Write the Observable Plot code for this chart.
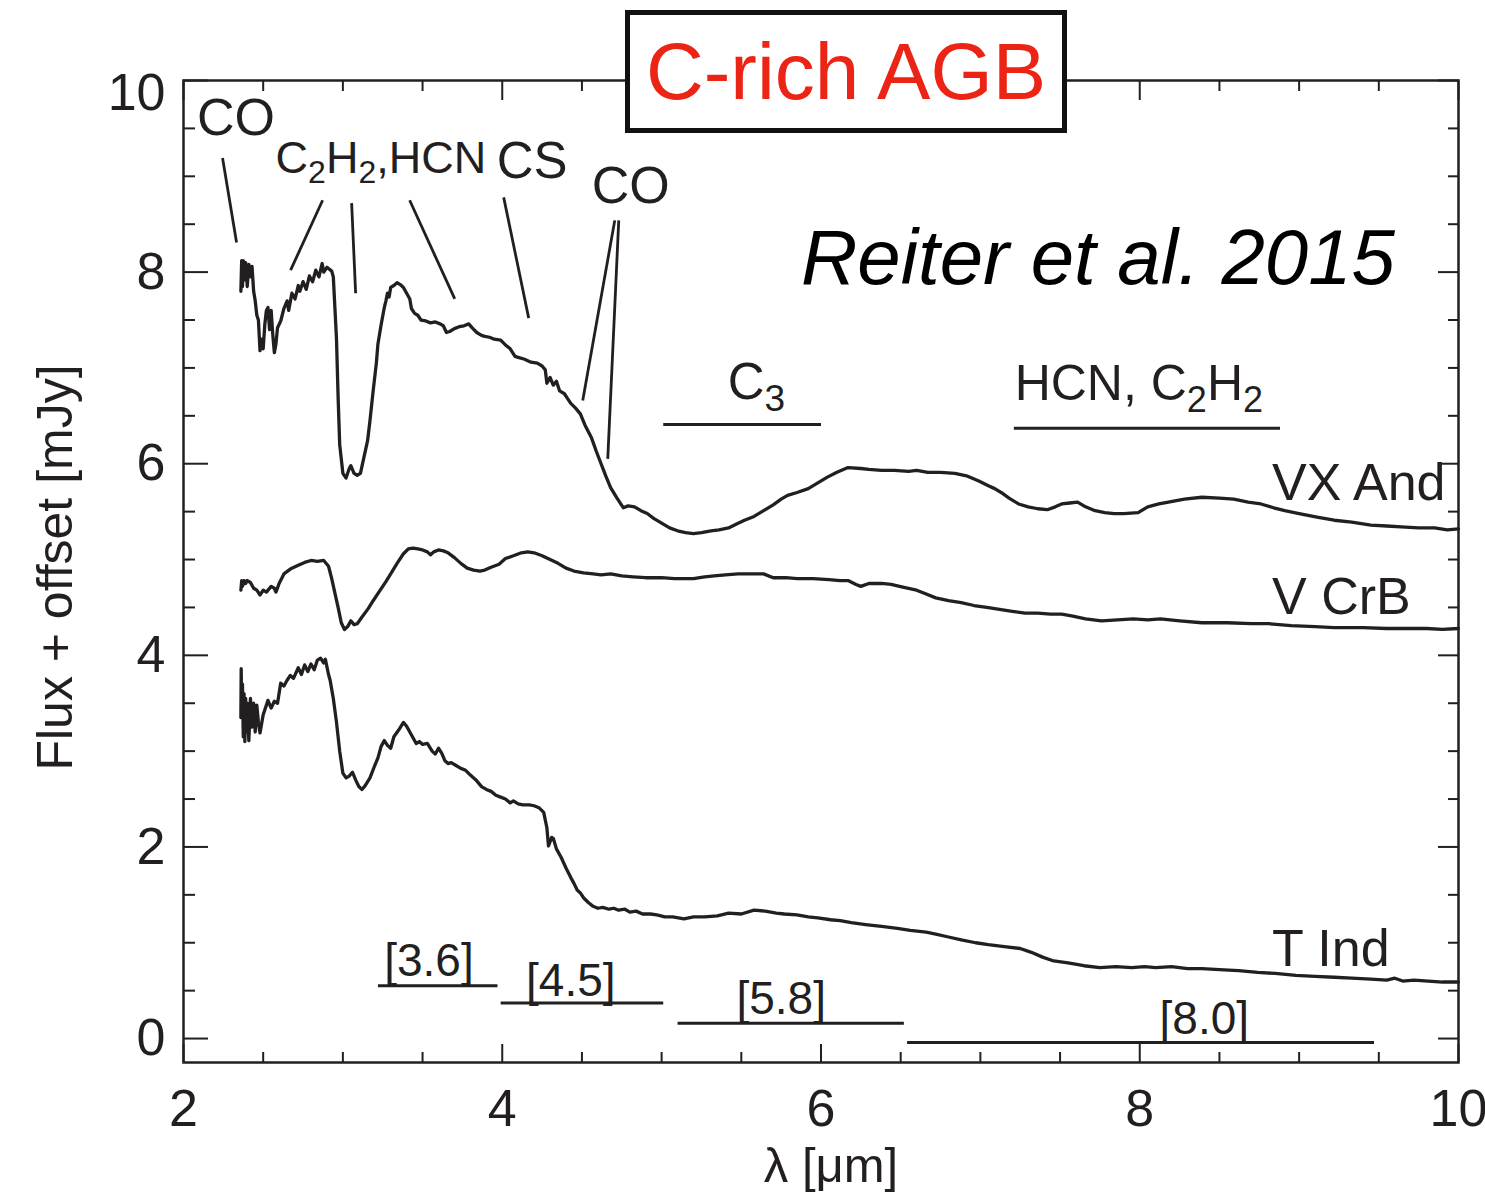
<!DOCTYPE html>
<html>
<head>
<meta charset="utf-8">
<script src="https://cdn.jsdelivr.net/npm/d3@7"></script>
<script src="https://cdn.jsdelivr.net/npm/@observablehq/plot@0.6"></script>
<style>
  body { margin: 0; background: #fff; }
  #fig { position: relative; width: 1485px; height: 1197px; font-family: "Liberation Sans", Arial, sans-serif; }
  #fig svg { display: block; position: absolute; left: 0; top: 0; }
  #title {
    position: absolute; left: 625px; top: 10px; width: 442px; height: 123px;
    box-sizing: border-box; border: 5px solid #111; background: #fff;
    color: #ec2415; font-size: 80px; line-height: 1;
    display: flex; align-items: center; justify-content: center; z-index: 2;
  }
</style>
</head>
<body>
<div id="fig"><div id="title">C-rich AGB</div></div>
<script>
// Spectra: [wavelength (µm), flux + offset (mJy)]
const vxAnd = [
  [2.36,7.80],[2.365,8.12],[2.37,7.85],[2.375,8.12],[2.38,7.92],[2.39,8.10],[2.40,7.85],[2.41,8.08],
  [2.42,7.95],[2.43,8.06],[2.44,7.80],[2.45,7.70],[2.46,7.55],[2.47,7.50],[2.48,7.18],[2.49,7.30],
  [2.50,7.20],[2.51,7.45],[2.52,7.60],[2.53,7.63],[2.54,7.40],[2.55,7.60],[2.56,7.35],[2.57,7.16],
  [2.58,7.25],[2.59,7.42],[2.61,7.49],[2.63,7.62],[2.65,7.70],[2.66,7.60],[2.68,7.78],[2.70,7.72],
  [2.72,7.86],[2.73,7.80],[2.75,7.90],[2.77,7.82],[2.79,7.96],[2.81,7.90],[2.83,8.02],[2.85,7.95],
  [2.87,8.09],[2.88,8.00],[2.90,8.05],[2.93,8.01],[2.94,7.95],[2.96,7.30],[2.97,6.70],[2.98,6.20],
  [3.00,5.90],[3.02,5.85],[3.04,5.95],[3.05,5.98],[3.07,5.90],[3.09,5.88],[3.11,5.90],[3.13,6.05],
  [3.155,6.24],[3.17,6.45],[3.19,6.76],[3.21,7.05],[3.22,7.25],[3.24,7.45],[3.26,7.63],[3.27,7.70],
  [3.28,7.78],[3.29,7.74],[3.30,7.84],[3.32,7.86],[3.34,7.89],[3.36,7.87],[3.38,7.84],[3.40,7.78],
  [3.42,7.72],[3.43,7.62],[3.45,7.57],[3.47,7.55],[3.49,7.50],[3.52,7.49],[3.55,7.47],[3.58,7.48],
  [3.61,7.46],[3.63,7.44],[3.65,7.37],[3.67,7.38],[3.70,7.41],[3.73,7.43],[3.76,7.44],[3.79,7.46],
  [3.81,7.42],[3.84,7.37],[3.87,7.34],[3.89,7.33],[3.92,7.32],[3.95,7.30],[3.99,7.29],[4.02,7.24],
  [4.05,7.20],[4.08,7.12],[4.10,7.11],[4.14,7.09],[4.18,7.06],[4.22,7.05],[4.25,7.02],[4.27,6.98],
  [4.28,6.84],[4.30,6.90],[4.32,6.82],[4.34,6.86],[4.36,6.76],[4.39,6.73],[4.41,6.68],[4.43,6.63],
  [4.46,6.58],[4.49,6.52],[4.52,6.40],[4.56,6.27],[4.59,6.13],[4.62,6.00],[4.65,5.87],[4.68,5.75],
  [4.72,5.64],[4.76,5.54],[4.79,5.56],[4.83,5.55],[4.87,5.51],[4.91,5.48],[4.95,5.43],[5.00,5.38],
  [5.05,5.33],[5.10,5.30],[5.15,5.28],[5.20,5.27],[5.25,5.28],[5.31,5.30],[5.36,5.31],[5.42,5.33],
  [5.47,5.37],[5.52,5.41],[5.58,5.45],[5.64,5.51],[5.70,5.57],[5.75,5.63],[5.79,5.67],[5.85,5.70],
  [5.92,5.74],[5.98,5.80],[6.04,5.86],[6.10,5.91],[6.17,5.96],[6.25,5.95],[6.30,5.94],[6.38,5.93],
  [6.46,5.93],[6.55,5.92],[6.60,5.93],[6.67,5.91],[6.75,5.91],[6.84,5.90],[6.92,5.87],[6.99,5.82],
  [7.05,5.77],[7.09,5.74],[7.13,5.70],[7.18,5.64],[7.24,5.58],[7.30,5.55],[7.36,5.53],[7.42,5.52],
  [7.47,5.55],[7.51,5.58],[7.56,5.59],[7.61,5.60],[7.66,5.55],[7.72,5.51],[7.78,5.49],[7.84,5.48],
  [7.90,5.48],[7.99,5.49],[8.05,5.55],[8.12,5.58],[8.18,5.60],[8.28,5.63],[8.39,5.65],[8.50,5.64],
  [8.59,5.63],[8.68,5.60],[8.76,5.58],[8.84,5.54],[8.91,5.51],[9.00,5.48],[9.12,5.44],[9.22,5.41],
  [9.33,5.39],[9.45,5.36],[9.55,5.35],[9.64,5.34],[9.75,5.33],[9.85,5.33],[9.93,5.31],[10.0,5.32]
];
const vCrB = [
  [2.36,4.68],[2.365,4.78],[2.37,4.72],[2.38,4.78],[2.39,4.75],[2.40,4.78],[2.42,4.76],[2.44,4.70],
  [2.46,4.68],[2.48,4.63],[2.50,4.68],[2.52,4.66],[2.55,4.72],[2.57,4.70],[2.58,4.66],[2.60,4.75],
  [2.63,4.85],[2.67,4.90],[2.72,4.94],[2.76,4.97],[2.80,4.99],[2.84,4.98],[2.88,4.99],[2.91,4.93],
  [2.93,4.80],[2.95,4.65],[2.97,4.50],[2.99,4.34],[3.01,4.27],[3.03,4.30],[3.05,4.36],[3.07,4.32],
  [3.09,4.33],[3.12,4.40],[3.16,4.49],[3.19,4.57],[3.23,4.67],[3.27,4.77],[3.30,4.85],[3.34,4.96],
  [3.38,5.06],[3.41,5.11],[3.44,5.12],[3.47,5.11],[3.50,5.10],[3.53,5.08],[3.55,5.05],[3.57,5.08],
  [3.60,5.10],[3.63,5.09],[3.66,5.07],[3.70,5.02],[3.74,4.96],[3.78,4.91],[3.82,4.89],[3.86,4.88],
  [3.89,4.89],[3.93,4.92],[3.98,4.95],[4.02,5.01],[4.07,5.04],[4.12,5.07],[4.16,5.08],[4.20,5.07],
  [4.25,5.04],[4.30,5.00],[4.35,4.96],[4.40,4.91],[4.45,4.88],[4.51,4.86],[4.57,4.85],[4.62,4.84],
  [4.68,4.85],[4.75,4.83],[4.82,4.82],[4.90,4.81],[5.00,4.81],[5.08,4.80],[5.15,4.80],[5.20,4.80],
  [5.27,4.82],[5.33,4.83],[5.40,4.84],[5.48,4.85],[5.55,4.85],[5.64,4.85],[5.70,4.81],[5.78,4.81],
  [5.85,4.80],[5.95,4.80],[6.05,4.79],[6.12,4.78],[6.17,4.78],[6.22,4.74],[6.25,4.72],[6.30,4.75],
  [6.38,4.75],[6.44,4.74],[6.52,4.71],[6.60,4.68],[6.66,4.64],[6.72,4.60],[6.80,4.57],[6.88,4.55],
  [6.96,4.52],[7.04,4.50],[7.12,4.48],[7.20,4.46],[7.28,4.44],[7.36,4.44],[7.44,4.43],[7.51,4.43],
  [7.58,4.41],[7.66,4.38],[7.76,4.36],[7.86,4.37],[7.96,4.38],[8.05,4.37],[8.13,4.38],[8.25,4.36],
  [8.39,4.34],[8.55,4.34],[8.70,4.33],[8.81,4.33],[8.95,4.31],[9.10,4.30],[9.22,4.29],[9.40,4.29],
  [9.55,4.28],[9.64,4.28],[9.80,4.28],[9.90,4.27],[10.0,4.28]
];
const tInd = [
  [2.36,3.35],[2.362,3.86],[2.365,3.40],[2.37,3.70],[2.375,3.15],[2.38,3.60],[2.385,3.10],[2.39,3.55],
  [2.395,3.20],[2.40,3.50],[2.41,3.11],[2.42,3.55],[2.43,3.25],[2.44,3.50],[2.45,3.20],[2.46,3.48],
  [2.47,3.30],[2.48,3.19],[2.50,3.38],[2.53,3.53],[2.55,3.45],[2.57,3.52],[2.59,3.50],[2.61,3.71],
  [2.63,3.68],[2.65,3.74],[2.67,3.79],[2.69,3.76],[2.72,3.87],[2.74,3.80],[2.76,3.90],[2.78,3.83],
  [2.80,3.91],[2.82,3.85],[2.84,3.95],[2.86,3.97],[2.88,3.92],[2.89,3.96],[2.91,3.80],[2.92,3.74],
  [2.94,3.55],[2.96,3.30],[2.98,3.00],[3.00,2.77],[3.02,2.72],[3.04,2.74],[3.06,2.78],[3.08,2.70],
  [3.10,2.63],[3.12,2.60],[3.14,2.64],[3.17,2.72],[3.20,2.85],[3.22,2.93],[3.24,3.05],[3.26,3.11],
  [3.28,3.06],[3.30,3.03],[3.32,3.15],[3.35,3.22],[3.38,3.30],[3.40,3.26],[3.42,3.20],[3.44,3.14],
  [3.46,3.08],[3.48,3.10],[3.50,3.07],[3.53,3.08],[3.56,3.00],[3.58,2.97],[3.60,3.03],[3.62,2.98],
  [3.64,2.90],[3.66,2.87],[3.68,2.88],[3.71,2.85],[3.74,2.82],[3.77,2.80],[3.80,2.75],[3.84,2.69],
  [3.87,2.63],[3.90,2.60],[3.93,2.58],[3.96,2.54],[3.99,2.52],[4.02,2.50],[4.05,2.46],[4.07,2.48],
  [4.10,2.45],[4.13,2.44],[4.17,2.44],[4.20,2.43],[4.23,2.41],[4.26,2.36],[4.28,2.20],[4.29,2.01],
  [4.31,2.10],[4.32,2.09],[4.34,1.98],[4.37,1.89],[4.40,1.78],[4.43,1.68],[4.45,1.62],[4.47,1.55],
  [4.49,1.52],[4.51,1.47],[4.54,1.42],[4.57,1.38],[4.60,1.36],[4.63,1.37],[4.67,1.35],[4.70,1.36],
  [4.73,1.34],[4.77,1.35],[4.80,1.32],[4.84,1.33],[4.88,1.30],[4.93,1.30],[4.97,1.29],[5.02,1.27],
  [5.07,1.27],[5.14,1.25],[5.20,1.27],[5.27,1.27],[5.35,1.28],[5.42,1.31],[5.50,1.30],[5.58,1.34],
  [5.65,1.33],[5.72,1.31],[5.77,1.30],[5.85,1.29],[5.92,1.27],[5.98,1.26],[6.06,1.24],[6.12,1.23],
  [6.19,1.21],[6.28,1.19],[6.38,1.17],[6.48,1.15],[6.56,1.13],[6.66,1.11],[6.72,1.09],[6.80,1.06],
  [6.88,1.03],[6.97,1.00],[7.05,0.98],[7.15,0.96],[7.25,0.94],[7.32,0.90],[7.39,0.85],[7.46,0.81],
  [7.55,0.79],[7.65,0.76],[7.75,0.74],[7.85,0.75],[7.95,0.74],[8.03,0.75],[8.10,0.74],[8.20,0.75],
  [8.30,0.73],[8.39,0.73],[8.50,0.72],[8.62,0.71],[8.74,0.69],[8.85,0.68],[8.98,0.66],[9.10,0.65],
  [9.22,0.64],[9.33,0.63],[9.45,0.62],[9.55,0.61],[9.60,0.63],[9.65,0.60],[9.72,0.61],[9.81,0.60],
  [9.90,0.59],[10.0,0.59]
];

const starNames = ["VX And", "V CrB", "T Ind"];
const starSpectra = [vxAnd, vCrB, tInd];
// where each star's name sits (left edge, text centre)
const starLabelX = [8.83, 8.83, 8.83];
const starLabelY = [5.79, 4.61, 0.935];

// molecular features: label text ("_n" = subscript n), placement and type size
const featureText = ["CO", "C_2H_2,HCN", "CS", "CO", "C_3", "HCN, C_2H_2"];
const featureX = [2.085, 2.578, 3.965, 4.562, 5.415, 7.215];
const featureY = [9.60, 9.19, 9.15, 8.89, 6.85, 6.83];
const featureSize = [52, 45, 51, 52, 51, 50];
// leader lines from labels down to the absorption features: [x1, y1, x2, y2]
const leaders = [
  [2.245, 9.19, 2.333, 8.31],
  [2.873, 8.75, 2.672, 8.02],
  [3.055, 8.72, 3.080, 7.78],
  [3.419, 8.75, 3.702, 7.72],
  [4.009, 8.78, 4.166, 7.52],
  [4.706, 8.54, 4.505, 6.66],
  [4.731, 8.54, 4.662, 6.05]
];
// broad band features (C3, HCN + C2H2): [from, to, level]
const bands = [[5.01, 6.00, 6.41], [7.21, 8.88, 6.37]];

// IRAC filter passbands: [from, to, level] and their labels
const filterNames = ["[3.6]", "[4.5]", "[5.8]", "[8.0]"];
const filterRanges = [[3.22, 3.97, 0.55], [3.99, 5.01, 0.37], [5.10, 6.52, 0.16], [6.54, 9.47, -0.04]];
const filterLabelX = [3.54, 4.43, 5.75, 8.405];
const filterLabelY = [0.805, 0.596, 0.408, 0.20];

const xMajor = [2, 4, 6, 8, 10];
const xMinor = d3.range(2.5, 10, 0.5).filter(v => v % 2 !== 0);
const yMajor = [0, 2, 4, 6, 8, 10];
const yMinor = d3.range(0.5, 10, 0.5).filter(v => v % 2 !== 0);

const ink = "#231f20";

const spectra = starSpectra.flatMap((pts, i) => pts.map(([w, f]) => ({star: starNames[i], w, f})));
const starLabels = starNames.map((name, i) => ({name, x: starLabelX[i], y: starLabelY[i]}));
const features = featureText.map((t, i) => ({t, x: featureX[i], y: featureY[i], s: featureSize[i]}));
const filterLabels = filterNames.map((t, i) => ({t, x: filterLabelX[i], y: filterLabelY[i]}));

const svg = Plot.plot({
  width: 1485,
  height: 1197,
  marginLeft: 183,
  marginRight: 27,
  marginTop: 80,
  marginBottom: 135,
  style: {fontFamily: "Liberation Sans, Arial, sans-serif", background: "transparent", color: ink, overflow: "visible"},
  x: {domain: [2, 10]},
  y: {domain: [-0.25, 10]},
  marks: [
    // inward tick marks on all four sides
    Plot.axisX({anchor: "bottom", ticks: xMajor, tickSize: -18, tickFormat: () => "", strokeWidth: 2, label: null}),
    Plot.axisX({anchor: "bottom", ticks: xMinor, tickSize: -10, tickFormat: () => "", strokeWidth: 2, label: null}),
    Plot.axisX({anchor: "top", ticks: xMajor, tickSize: -19, tickFormat: () => "", strokeWidth: 2, label: null}),
    Plot.axisX({anchor: "top", ticks: xMinor, tickSize: -10, tickFormat: () => "", strokeWidth: 2, label: null}),
    Plot.axisY({anchor: "left", ticks: yMajor, tickSize: -25, tickFormat: () => "", strokeWidth: 2, label: null}),
    Plot.axisY({anchor: "left", ticks: yMinor, tickSize: -12, tickFormat: () => "", strokeWidth: 2, label: null}),
    Plot.axisY({anchor: "right", ticks: yMajor, tickSize: -21, tickFormat: () => "", strokeWidth: 2, label: null}),
    Plot.axisY({anchor: "right", ticks: yMinor, tickSize: -11, tickFormat: () => "", strokeWidth: 2, label: null}),
    // tick labels
    Plot.axisX({anchor: "bottom", ticks: xMajor, tickSize: 0, tickPadding: 27, fontSize: 52, tickFormat: d => String(d), label: null}),
    Plot.axisY({anchor: "left", ticks: yMajor.slice(0, -1), tickSize: 0, tickPadding: 18, fontSize: 52, tickFormat: d => String(d), label: null}),
    Plot.axisY({anchor: "left", ticks: [10], tickSize: 0, tickPadding: 18, fontSize: 52, dy: 13, tickFormat: d => String(d), label: null}),
    Plot.frame({stroke: ink, strokeWidth: 2.5}),
    // spectra
    Plot.line(spectra, {x: "w", y: "f", z: "star", stroke: ink, strokeWidth: 3.3, strokeLinejoin: "round"}),
    Plot.text(starLabels, {x: "x", y: "y", text: "name", textAnchor: "start", fontSize: 52, fill: ink}),
    // feature identifications
    Plot.link(leaders, {x1: d => d[0], y1: d => d[1], x2: d => d[2], y2: d => d[3], stroke: ink, strokeWidth: 2.8}),
    Plot.link(bands, {x1: d => d[0], x2: d => d[1], y1: d => d[2], y2: d => d[2], stroke: ink, strokeWidth: 3}),
    Plot.text(features, {x: "x", y: "y", text: "t", fontSize: "s", textAnchor: "start", fill: ink}),
    // filter passbands
    Plot.link(filterRanges, {x1: d => d[0], x2: d => d[1], y1: d => d[2], y2: d => d[2], stroke: ink, strokeWidth: 3}),
    Plot.text(filterLabels, {x: "x", y: "y", text: "t", fontSize: 46, fill: ink}),
    // reference
    Plot.text(["Reiter et al. 2015"], {x: 5.874, y: 8.14, textAnchor: "start", fontSize: 78, fontStyle: "italic", fill: "#000"}),
    // axis titles
    Plot.text(["λ [μm]"], {frameAnchor: "bottom", dy: 119, dx: 10, fontSize: 49, fill: ink}),
    Plot.text(["Flux + offset [mJy]"], {frameAnchor: "left", textAnchor: "middle", dx: -128, dy: -4, rotate: -90, fontSize: 50, fill: ink})
  ]
});

document.getElementById("fig").prepend(svg);

// chemical formulae: "_n" becomes a lowered, smaller digit
const NS = "http://www.w3.org/2000/svg";
svg.querySelectorAll("text").forEach(t => {
  if (!t.textContent.includes("_")) return;
  const fs = parseFloat(getComputedStyle(t).fontSize) || 48;
  const sub = Math.round(fs * 0.72), shift = Math.round(fs * 0.23);
  const parts = t.textContent.split(/_(\d)/);
  t.textContent = "";
  parts.forEach((p, i) => {
    if (!p) return;
    const ts = document.createElementNS(NS, "tspan");
    ts.textContent = p;
    if (i % 2 === 1) {
      ts.setAttribute("font-size", sub);
      ts.setAttribute("dy", shift);
    } else if (i > 0) {
      ts.setAttribute("dy", -shift);
    }
    t.appendChild(ts);
  });
});
</script>
</body>
</html>
